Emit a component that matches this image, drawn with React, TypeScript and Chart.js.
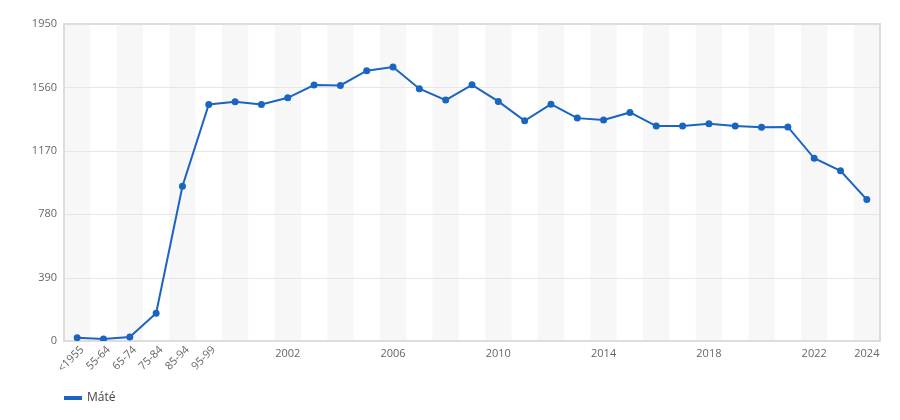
import { useEffect, useRef } from 'react';
import { Chart, registerables } from 'chart.js';

Chart.register(...registerables);

const categories = [
  '<1955', '55-64', '65-74', '75-84', '85-94', '95-99',
  '2000', '2001', '2002', '2003', '2004', '2005', '2006', '2007', '2008', '2009',
  '2010', '2011', '2012', '2013', '2014', '2015', '2016', '2017', '2018', '2019',
  '2020', '2021', '2022', '2023', '2024',
];

const mateValues = [
  20, 12, 25, 171, 952, 1455,
  1472, 1455, 1496, 1574, 1572, 1663, 1685, 1552, 1482, 1576,
  1474, 1355, 1457, 1371, 1360, 1406, 1322, 1322, 1336, 1322,
  1315, 1317, 1124, 1047, 870,
];

// labels drawn rotated (ranges) and horizontal (selected years)
const rotatedLabels = ['<1955', '55-64', '65-74', '75-84', '85-94', '95-99'];
const yearLabels = ['2002', '2006', '2010', '2014', '2018', '2022', '2024'];

const yTicks = [0, 390, 780, 1170, 1560, 1950];

const LINE_COLOR = '#1a64c2';
const TICK_COLOR = '#666666';
const FONT = '"Open Sans", sans-serif';

const bandsPlugin = {
  id: 'bands',
  beforeDatasetsDraw(chart: Chart) {
    const { ctx, chartArea, scales } = chart;
    const x = scales.x;
    const half = (x.getPixelForValue(1) - x.getPixelForValue(0)) / 2;
    ctx.save();
    ctx.fillStyle = '#f7f7f7';
    categories.forEach((_, i) => {
      if (i % 2 !== 0) return;
      const c = x.getPixelForValue(i);
      ctx.fillRect(c - half, chartArea.top, half * 2, chartArea.bottom - chartArea.top);
    });
    // horizontal grid lines over the bands
    ctx.strokeStyle = '#e6e6e6';
    ctx.lineWidth = 1;
    yTicks.forEach((t) => {
      if (t === 0) return;
      const y = Math.round(scales.y.getPixelForValue(t)) + 0.5;
      ctx.beginPath();
      ctx.moveTo(chartArea.left, y);
      ctx.lineTo(chartArea.right, y);
      ctx.stroke();
    });
    // frame
    ctx.strokeStyle = '#dddddd';
    ctx.lineWidth = 2;
    ctx.strokeRect(chartArea.left, chartArea.top, chartArea.right - chartArea.left, chartArea.bottom - chartArea.top);
    ctx.restore();
  },
  afterDraw(chart: Chart) {
    const { ctx, chartArea, scales } = chart;
    const x = scales.x;
    ctx.save();
    ctx.fillStyle = TICK_COLOR;
    ctx.font = `11px ${FONT}`;
    categories.forEach((label, i) => {
      const px = x.getPixelForValue(i);
      if (rotatedLabels.includes(label)) {
        ctx.save();
        ctx.translate(px + 5, chartArea.bottom + 7);
        ctx.rotate(-Math.PI / 4);
        ctx.textAlign = 'right';
        ctx.textBaseline = 'middle';
        ctx.fillText(label, 0, 0);
        ctx.restore();
      } else if (yearLabels.includes(label)) {
        ctx.textAlign = 'center';
        ctx.textBaseline = 'middle';
        ctx.fillText(label, px, chartArea.bottom + 13);
      }
    });

    // legend, left-aligned with the plot area
    const ds = chart.data.datasets[0];
    const ly = 398;
    ctx.fillStyle = ds.borderColor as string;
    ctx.fillRect(chartArea.left, ly - 2, 18, 4);
    ctx.fillStyle = '#444444';
    ctx.font = `12px ${FONT}`;
    ctx.textAlign = 'left';
    ctx.textBaseline = 'middle';
    ctx.fillText(ds.label as string, chartArea.left + 23, ly);
    ctx.restore();
  },
};

export default function App() {
  const canvasRef = useRef<HTMLCanvasElement | null>(null);

  useEffect(() => {
    document.body.style.margin = '0';
    const canvas = canvasRef.current;
    if (!canvas) return;

    const chart = new Chart(canvas, {
      type: 'line',
      data: {
        labels: categories,
        datasets: [
          {
            label: 'Máté',
            data: mateValues,
            borderColor: LINE_COLOR,
            backgroundColor: LINE_COLOR,
            pointBackgroundColor: LINE_COLOR,
            pointBorderColor: LINE_COLOR,
            pointRadius: 2.5,
            borderWidth: 2,
            tension: 0,
          },
        ],
      },
      options: {
        responsive: true,
        maintainAspectRatio: false,
        animation: false,
        layout: { padding: { left: 0, right: 20, top: 24, bottom: 0 } },
        plugins: {
          tooltip: { enabled: false },
          legend: { display: false },
        },
        scales: {
          x: {
            offset: true,
            grid: { display: false },
            border: { display: false },
            ticks: { display: false },
            afterFit: (scale) => {
              scale.height = 79;
            },
          },
          y: {
            min: 0,
            max: 1950,
            afterFit: (scale) => {
              scale.width = 64;
            },
            afterBuildTicks: (scale) => {
              scale.ticks = yTicks.map((v) => ({ value: v }));
            },
            grid: { display: false, drawTicks: false },
            border: { display: false },
            ticks: {
              color: TICK_COLOR,
              padding: 7,
              font: { size: 11, family: FONT },
              callback: (value) => String(value),
            },
          },
        },
      },
      plugins: [bandsPlugin],
    });

    return () => chart.destroy();
  }, []);

  return (
    <div style={{ width: 900, height: 420 }}>
      <canvas ref={canvasRef} />
    </div>
  );
}
